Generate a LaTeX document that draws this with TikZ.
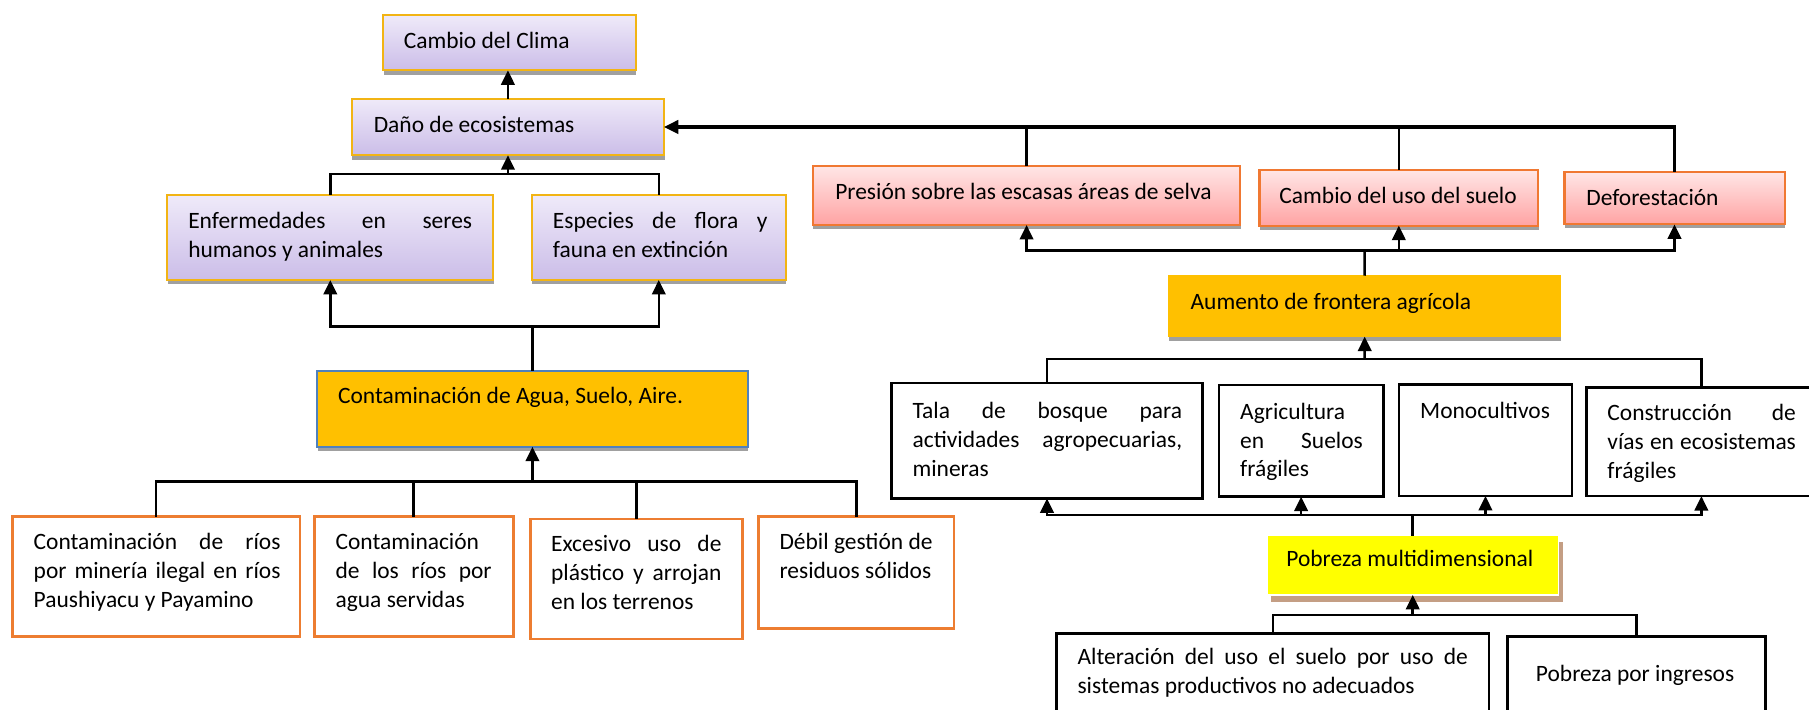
\documentclass[tikz,border=0pt]{standalone}
\usepackage{fontspec}
\setmainfont{Carlito}
\usetikzlibrary{arrows.meta}
\definecolor{purpTop}{RGB}{239,234,249}
\definecolor{purpBot}{RGB}{203,189,232}
\definecolor{goldLine}{RGB}{242,180,20}
\definecolor{pinkTop}{RGB}{255,230,230}
\definecolor{pinkBot}{RGB}{255,163,163}
\definecolor{pinkLine}{RGB}{240,120,50}
\definecolor{orLine}{RGB}{237,125,49}
\definecolor{goldFill}{RGB}{255,192,0}
\definecolor{yelFill}{RGB}{255,255,0}
\definecolor{tanShadow}{RGB}{196,158,132}
\definecolor{grayShadow}{RGB}{160,160,160}
\definecolor{blueLine}{RGB}{79,129,189}
\newcommand\frameat[6]{%
  \pgfmathsetmacro\myW{(#5-#3)*0.6}%
  \pgfmathsetmacro\myH{(#6-#4)*0.6}%
  \node[#1, minimum width=\myW pt, minimum height=\myH pt, inner sep=0pt, outer sep=0pt] (#2) at ({(#3+#5)/2},{(#4+#6)/2}) {};}
\newcommand\shadowat[7]{\fill[#7] ({#1+#5},{#2+#6}) rectangle ({#3+#5},{#4+#6});}
\newcommand\jl[2]{\makebox[#1pt][s]{#2}}
\begin{document}
\begin{tikzpicture}[x=0.6pt,y=-0.6pt,
  purp/.style={draw=goldLine, line width=1.1pt, top color=purpTop, bottom color=purpBot},
  pinkb/.style={draw=pinkLine, line width=1.1pt, top color=pinkTop, bottom color=pinkBot},
  contb/.style={draw=blueLine, line width=1.1pt, fill=goldFill},
  aumb/.style={draw=goldFill, line width=0.6pt, fill=goldFill},
  orb/.style={draw=orLine, line width=1.4pt, fill=white},
  blkb/.style={draw=black, line width=1.4pt, fill=white},
  yelb/.style={draw=white, line width=0.8pt, fill=yelFill},
  txt/.style={anchor=base west, inner sep=0pt, outer sep=0pt, align=left, text=black,
    font=\fontsize{12.2pt}{15pt}\selectfont},
  conn/.style={line width=1.3pt, draw=black},
  arr/.style={conn, -{Triangle[width=7pt,length=7.5pt]}}]
\useasboundingbox (0,0) rectangle (1568,615);
% ---------- shadows ----------
\shadowat{332}{13}{551}{61}{0.5}{3.7}{grayShadow}
\shadowat{305}{85.5}{575.5}{134.6}{0.5}{3.7}{grayShadow}
\shadowat{145}{169}{427.6}{242.7}{0.5}{3.7}{grayShadow}
\shadowat{461}{169}{681}{242.7}{0.5}{3.7}{grayShadow}
\shadowat{275}{321.3}{648}{387.2}{0.5}{4}{grayShadow}
\shadowat{704.6}{143.9}{1075}{195}{0.5}{3.5}{grayShadow}
\shadowat{1091.7}{147.4}{1333.2}{195.6}{0.5}{3.5}{grayShadow}
\shadowat{1356}{149}{1546.8}{194.5}{0.5}{3.5}{grayShadow}
\shadowat{1013}{239}{1352.7}{291.8}{0.5}{3.5}{grayShadow}
\shadowat{1098}{464.3}{1351}{515.7}{4}{5.8}{tanShadow}
% ---------- frames ----------
\frameat{purp}{clima}{332}{13}{551}{61}
\frameat{purp}{dano}{305}{85.5}{575.5}{134.6}
\frameat{purp}{enf}{145}{169}{427.6}{242.7}
\frameat{purp}{esp}{461}{169}{681}{242.7}
\frameat{contb}{cont}{275}{321.3}{648}{387.2}
\frameat{orb}{ca}{10.6}{447.8}{260}{551.8}
\frameat{orb}{cb}{272.3}{447.8}{444.8}{551.8}
\frameat{orb}{cc}{459.7}{449.9}{643.3}{553.9}
\frameat{orb}{cd}{657.6}{447.8}{826.9}{544.6}
\frameat{pinkb}{pres}{704.6}{143.9}{1075}{195}
\frameat{pinkb}{cuso}{1091.7}{147.4}{1333.2}{195.6}
\frameat{pinkb}{defo}{1356}{149}{1546.8}{194.5}
\frameat{aumb}{aum}{1013}{239}{1352.7}{291.8}
\frameat{blkb}{tala}{773}{332}{1042}{432}
\frameat{blkb}{agri}{1056.5}{333.7}{1199}{430.5}
\frameat{blkb}{mono}{1212.6}{333.1}{1362.5}{429.9}
\frameat{blkb}{cons}{1375.4}{335.7}{1574}{430}
\frameat{yelb}{pmul}{1098}{464.3}{1351}{515.7}
\frameat{blkb}{alt}{915.8}{549}{1290.6}{650}
\frameat{blkb}{ping}{1306.5}{551.9}{1530.4}{650}
% ---------- texts (anchor = baseline of last line) ----------
\node[txt] (clima-t) at (350,42) {Cambio del Clima};
\node[txt] (dano-t) at (324,115) {Daño de ecosistemas};
\node[txt] (enf-t) at (163.2,223) {\jl{147.6}{Enfermedades en seres}\\humanos y animales};
\node[txt] (esp-t) at (479.3,223) {\jl{111.6}{Especies de flora y}\\fauna en extinción};
\node[txt] (cont-t) at (293,349.6) {Contaminación de Agua, Suelo, Aire.};
\node[txt] (ca-t) at (29.2,526.7) {\jl{128.4}{Contaminación de ríos}\\\jl{128.4}{por minería ilegal en ríos}\\Paushiyacu y Payamino};
\node[txt] (cb-t) at (290.9,526.7) {Contaminación\\\jl{81.2}{de los ríos por}\\agua servidas};
\node[txt] (cc-t) at (477.7,528.2) {\jl{88.6}{Excesivo uso de}\\\jl{88.6}{plástico y arrojan}\\en los terrenos};
\node[txt] (cd-t) at (675.7,501.7) {Débil gestión de\\residuos sólidos};
\node[txt] (pres-t) at (724,172.8) {Presión sobre las escasas áreas de selva};
\node[txt] (cuso-t) at (1109,176.2) {Cambio del uso del suelo};
\node[txt] (defo-t) at (1375,177.7) {Deforestación};
\node[txt] (aum-t) at (1032,268) {Aumento de frontera agrícola};
\node[txt] (tala-t) at (791,412.6) {\jl{140.2}{Tala de bosque para}\\\jl{140.2}{actividades agropecuarias,}\\mineras};
\node[txt] (agri-t) at (1075,413.4) {Agricultura\\\jl{63.8}{en Suelos}\\frágiles};
\node[txt] (mono-t) at (1231,362.6) {Monocultivos};
\node[txt] (cons-t) at (1393.3,414.6) {\jl{98}{Construcción de}\\\jl{98}{vías en ecosistemas}\\frágiles};
\node[txt] (pmul-t) at (1115,491.2) {Pobreza multidimensional};
\node[txt] (alt-t) at (934,601) {\jl{203}{Alteración del uso el suelo por uso de}\\sistemas productivos no adecuados};
\node[txt] (ping-t) at (1331.3,590.9) {Pobreza por ingresos};
% ---------- connectors ----------
\draw[arr] (dano.north) -- (dano.north |- clima.south);
\coordinate (j1) at (440.3,151);
\draw[conn] (enf.north) |- (j1) -| (esp.north);
\draw[arr] (j1) -- (j1 |- dano.south);
\coordinate (j2) at (461.5,283);
\draw[conn] (cont.north) -- (j2);
\draw[arr] (j2) -| (enf.south);
\draw[arr] (j2) -| (esp.south);
\coordinate (j3) at (461.5,417.5);
\draw[conn] (ca.north) |- (j3) -| (cd.north);
\draw[conn] (cb.north) -- (cb.north |- j3);
\draw[conn] (cc.north) -- (cc.north |- j3);
\draw[arr] (j3) -- (cont.south);
\draw[arr, line width=1.6pt] (defo.north) |- (dano.east);
\draw[conn] (pres.north) -- (pres.north |- dano.east);
\draw[conn] (cuso.north) -- (cuso.north |- dano.east);
\coordinate (j5) at (1182.9,217);
\draw[conn] (aum.north) -- (j5);
\draw[arr] (j5) -| (pres.south);
\draw[arr] (j5) -| (defo.south);
\draw[arr] (cuso.south |- j5) -- (cuso.south);
\coordinate (j6) at (1182.9,311);
\draw[conn] (tala.north) |- (j6) -| (cons.north);
\draw[arr] (j6) -- (aum.south);
\coordinate (j7) at (1224.5,446.5);
\draw[conn] (pmul.north) -- (j7);
\draw[arr] (j7) -| (tala.south);
\draw[arr] (j7) -| (cons.south);
\draw[arr] (agri.south |- j7) -- (agri.south);
\draw[arr] (mono.south |- j7) -- (mono.south);
\coordinate (j8) at (1224.5,533);
\draw[conn] (alt.north) |- (j8) -| (ping.north);
\draw[arr] (j8) -- (pmul.south);
\end{tikzpicture}
\end{document}
